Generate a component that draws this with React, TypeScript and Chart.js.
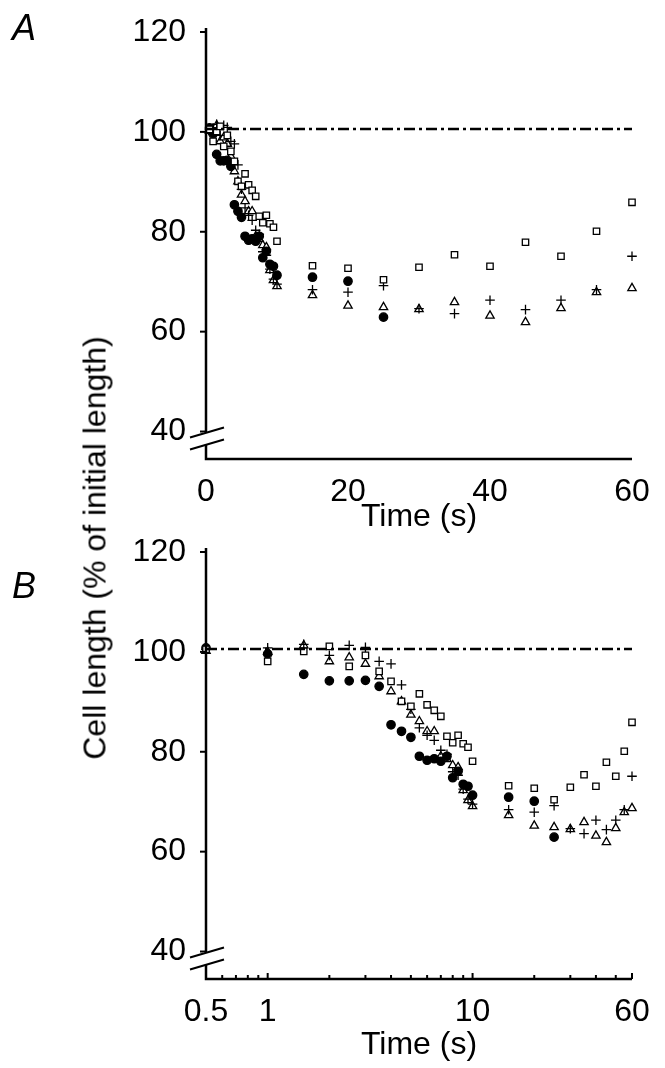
import React, { useEffect, useRef } from "react";
import Chart from "chart.js/auto";

const times = [0.5, 1, 1.5, 2, 2.5, 3, 3.5, 4, 4.5, 5, 5.5, 6, 6.5, 7, 7.5, 8, 8.5, 9, 9.5, 10, 15, 20, 25, 30, 35, 40, 45, 50, 55, 60];

const squares = [100.5, 98.1, 100.1, 101.1, 97.1, 99.3, 96.1, 94.1, 90.1, 89.1, 91.6, 89.4, 88.3, 87.1, 83.1, 81.8, 83.3, 81.6, 80.9, 78.1, 73.2, 72.7, 70.4, 72.9, 75.4, 73.1, 77.9, 75.1, 80.1, 85.9];
const circles = [100.8, 99.6, 95.5, 94.2, 94.2, 94.3, 93.1, 85.4, 84.1, 82.9, 79.1, 78.3, 78.6, 78.1, 79.1, 74.8, 76.1, 73.5, 73.1, 71.3, 70.9, 70.1, 62.9];
const crosses = [100.5, 100.8, 101.5, 99.3, 101.3, 100.9, 98.1, 97.6, 93.4, 88.5, 84.8, 83.3, 82.3, 80.3, 79.5, 76.0, 75.3, 72.5, 70.5, 69.5, 68.4, 67.9, 69.2, 64.6, 63.6, 66.3, 64.4, 66.3, 68.4, 75.1];
const triangles = [100.2, 100.0, 101.3, 98.1, 98.9, 97.6, 95.1, 92.1, 90.1, 87.4, 86.1, 84.1, 84.1, 79.1, 78.5, 77.3, 76.9, 72.3, 70.3, 69.1, 67.3, 65.2, 64.9, 64.5, 65.9, 63.2, 61.9, 64.7, 67.9, 68.7];

const yTicks = [40, 60, 80, 100, 120];
const xTicksLinear = [0, 20, 40, 60];
const xTicksLog = [0.5, 1, 10, 60];
const xMinorLog = [0.6, 0.7, 0.8, 0.9, 2, 3, 4, 5, 6, 7, 8, 9, 20, 30, 40, 50];

const FONT = "'Liberation Sans', Arial, sans-serif";

const pts = (vals: number[]) => vals.map((v, i) => ({ x: times[i], y: v }));

const decor = {
  id: "decor",
  afterDraw(chart: any, _args: any, opts: any) {
    const { ctx, scales, chartArea } = chart;
    const x = scales.x;
    const y = scales.y;
    ctx.save();
    ctx.strokeStyle = "#000";
    ctx.lineWidth = 2.5;
    // axes
    ctx.beginPath();
    ctx.moveTo(chartArea.left, y.getPixelForValue(120) - 4);
    ctx.lineTo(chartArea.left, chartArea.bottom);
    ctx.lineTo(chartArea.right, chartArea.bottom);
    ctx.stroke();
    ctx.lineWidth = 2;
    // y ticks (outward)
    for (const t of yTicks) {
      const py = y.getPixelForValue(t);
      ctx.beginPath();
      ctx.moveTo(chartArea.left - 6, py);
      ctx.lineTo(chartArea.left, py);
      ctx.stroke();
    }
    // x ticks (inward)
    const drawX = (vals: number[], len: number) => {
      for (const t of vals) {
        const px = x.getPixelForValue(t);
        ctx.beginPath();
        ctx.moveTo(px, chartArea.bottom);
        ctx.lineTo(px, chartArea.bottom - len);
        ctx.stroke();
      }
    };
    drawX(opts.major || [], 6);
    drawX(opts.minor || [], 4);
    // axis break
    const b1 = y.getPixelForValue(40) + 1;
    const b2 = b1 + 12;
    ctx.fillStyle = "#fff";
    ctx.fillRect(chartArea.left - 3, b1, 6, b2 - b1);
    ctx.lineWidth = 2;
    for (const by of [b1, b2]) {
      ctx.beginPath();
      ctx.moveTo(chartArea.left - 16, by + 5);
      ctx.lineTo(chartArea.left + 18, by - 5);
      ctx.stroke();
    }
    ctx.restore();
  },
};

function Panel({ log, top, height }: { log: boolean; top: number; height: number }) {
  const ref = useRef<HTMLCanvasElement>(null);
  useEffect(() => {
    if (!ref.current) return;
    const marker = (label: string, data: number[], style: string, fill: boolean, r: number) => ({
      label,
      data: pts(data),
      showLine: false,
      clip: false,
      pointStyle: style,
      pointRadius: r,
      pointBackgroundColor: fill ? "#000" : "#fff",
      pointBorderColor: "#000",
      pointBorderWidth: 1.3,
    });
    const chart = new Chart(ref.current, {
      type: "scatter",
      data: {
        datasets: [
          {
            label: "ref",
            data: [
              { x: log ? 0.5 : 0, y: 100.6 },
              { x: 60, y: 100.6 },
            ],
            showLine: true,
            borderColor: "#000",
            borderWidth: 2.5,
            borderDash: [11, 4, 3, 4],
            pointRadius: 0,
          } as any,
          marker("squares", squares, "rect", false, 4.5),
          marker("circles", circles, "circle", true, 4.2),
          marker("crosses", crosses, "cross", false, 4.8),
          marker("triangles", triangles, "triangle", false, 4.8),
        ],
      },
      options: {
        animation: false,
        responsive: false,
        layout: { padding: { top: 32, right: 33, left: 0, bottom: 0 } },
        plugins: {
          legend: { display: false },
          tooltip: { enabled: false },
          decor: log ? { major: xTicksLog, minor: xMinorLog } : { major: [], minor: [] },
        } as any,
        scales: {
          x: {
            type: log ? "logarithmic" : "linear",
            min: log ? 0.5 : 0,
            max: 60,
            border: { display: false },
            grid: { display: false },
            afterBuildTicks: (s: any) => {
              s.ticks = (log ? xTicksLog : xTicksLinear).map((v) => ({ value: v }));
            },
            afterFit: (s: any) => {
              s.height = height - 459;
            },
            ticks: {
              autoSkip: false,
              maxRotation: 0,
              color: "#000",
              padding: 6,
              font: { family: FONT, size: 32 },
              callback: (v: any) => String(v),
            },
            title: {
              display: true,
              text: "Time (s)",
              color: "#000",
              padding: { top: 6 },
              font: { family: FONT, size: 32 },
            },
          },
          y: {
            min: 34.5,
            max: 120,
            border: { display: false },
            grid: { display: false },
            afterBuildTicks: (s: any) => {
              s.ticks = yTicks.map((v) => ({ value: v }));
            },
            afterFit: (s: any) => {
              s.width = 206;
            },
            ticks: {
              color: "#000",
              padding: 12,
              font: { family: FONT, size: 32 },
            },
          },
        },
      },
      plugins: [decor],
    });
    return () => chart.destroy();
  }, [log, height]);
  return (
    <canvas
      ref={ref}
      width={665}
      height={height}
      style={{ position: "absolute", left: 0, top, width: 665, height }}
    />
  );
}

export default function App() {
  const letter: React.CSSProperties = {
    position: "absolute",
    left: 12,
    fontFamily: FONT,
    fontStyle: "italic",
    fontSize: 36,
    lineHeight: "36px",
  };
  return (
    <div style={{ position: "absolute", left: 0, top: 0, width: 665, height: 1068, background: "#fff", overflow: "hidden" }}>
      <Panel log={false} top={0} height={540} />
      <Panel log={true} top={520} height={548} />
      <div style={{ ...letter, top: 10 }}>A</div>
      <div style={{ ...letter, top: 568 }}>B</div>
      <div
        style={{
          position: "absolute",
          left: 95,
          top: 548,
          transform: "translate(-50%, -50%) rotate(-90deg)",
          whiteSpace: "nowrap",
          fontFamily: FONT,
          fontSize: 32,
        }}
      >
        Cell length (% of initial length)
      </div>
    </div>
  );
}
